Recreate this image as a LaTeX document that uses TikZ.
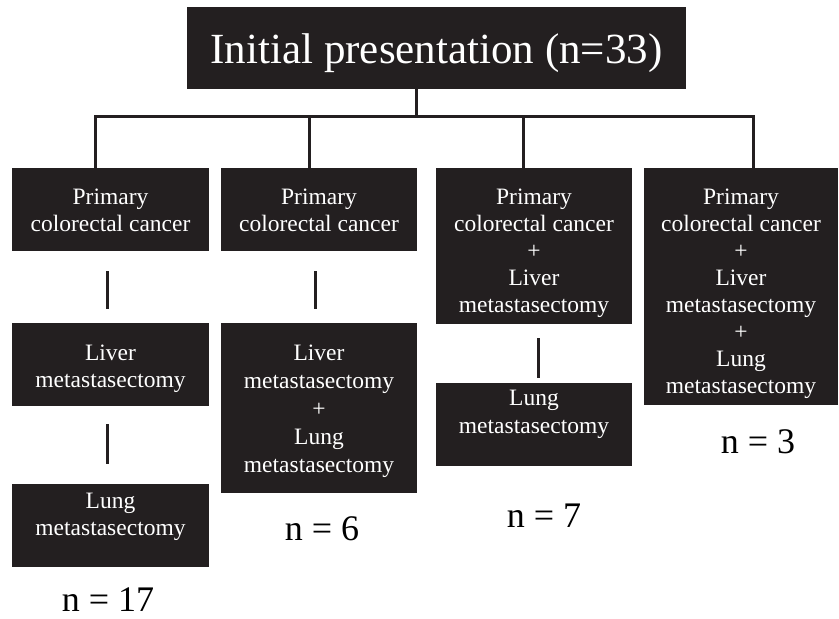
\documentclass[tikz,border=0pt]{standalone}
\usepackage{fontspec}
\setmainfont{Liberation Serif}
\definecolor{boxfill}{HTML}{231F20}
\begin{document}
\begin{tikzpicture}[x=1pt,y=-1pt,
  box/.style={fill=boxfill, draw=none, inner sep=0pt},
  boxtext/.style={text=white, align=center, inner sep=0pt, anchor=base,
              font=\fontsize{23.5}{27}\selectfont},
  count/.style={inner sep=0pt, anchor=base, font=\fontsize{36}{40}\selectfont},
  conn/.style={line width=3pt, draw=boxfill}]
\useasboundingbox (0,0) rectangle (839,619);
% boxes
\node[box, minimum width=499pt, minimum height=82pt] (t) at (436.5,48) {};
\node[box, minimum width=197pt, minimum height=83pt] (a1) at (110.5,209.5) {};
\node[box, minimum width=196pt, minimum height=83pt] (b1) at (319,209.5) {};
\node[box, minimum width=196pt, minimum height=156pt] (c1) at (534,246) {};
\node[box, minimum width=194pt, minimum height=237pt] (d1) at (741,286.5) {};
\node[box, minimum width=197pt, minimum height=83pt] (a2) at (110.5,364.5) {};
\node[box, minimum width=196pt, minimum height=170pt] (b2) at (319,408) {};
\node[box, minimum width=196pt, minimum height=83pt] (c2) at (534,424.5) {};
\node[box, minimum width=197pt, minimum height=83pt] (a3) at (110.5,525.5) {};
% box texts (anchored at the baseline of their last line)
\node[boxtext, font=\fontsize{43}{48}\selectfont] (tt) at (436.5,63) {Initial presentation (n=33)};
\node[boxtext] (a1t) at (110.5,231) {Primary\\colorectal cancer};
\node[boxtext] (b1t) at (319,231) {Primary\\colorectal cancer};
\node[boxtext] (c1t) at (534,312) {Primary\\colorectal cancer\\+\\Liver\\metastasectomy};
\node[boxtext] (d1t) at (741,393) {Primary\\colorectal cancer\\+\\Liver\\metastasectomy\\+\\Lung\\metastasectomy};
\node[boxtext] (a2t) at (110.5,387) {Liver\\metastasectomy};
\node[boxtext, font=\fontsize{23.5}{28}\selectfont] (b2t) at (319,472) {Liver\\metastasectomy\\+\\Lung\\metastasectomy};
\node[boxtext, font=\fontsize{23.5}{28}\selectfont] (c2t) at (534,433) {Lung\\metastasectomy};
\node[boxtext] (a3t) at (110.5,535) {Lung\\metastasectomy};
% counts
\node[count] (na) at (108,611) {n = 17};
\node[count] (nb) at (322,540) {n = 6};
\node[count] (nc) at (544,527) {n = 7};
\node[count] (nd) at (758,453) {n = 3};
% tree connectors
\coordinate (hub) at (416,116);
\coordinate (j1) at (95,116);
\coordinate (j2) at (309,116);
\coordinate (j3) at (523,116);
\coordinate (j4) at (753,116);
\draw[conn] (t.south -| hub) -- (hub);
\draw[conn, line cap=rect] (j1) -- (j4);
\draw[conn] (j1) -- ([yshift=-13pt]j1 |- a1.north);
\draw[conn] (j2) -- ([yshift=-13pt]j2 |- b1.north);
\draw[conn] (j3) -- ([yshift=-13pt]j3 |- c1.north);
\draw[conn] (j4) -- ([yshift=-13pt]j4 |- d1.north);
% vertical connectors
\draw[conn, shorten <=20pt, shorten >=14pt] ([xshift=-3pt]a1.south) -- ([xshift=-3pt]a2.north);
\draw[conn, shorten <=18pt, shorten >=20pt] ([xshift=-3pt]a2.south) -- ([xshift=-3pt]a3.north);
\draw[conn, shorten <=20pt, shorten >=14pt] ([xshift=-4pt]b1.south) -- ([xshift=-4pt]b2.north);
\draw[conn, shorten <=14pt, shorten >=5pt] ([xshift=4pt]c1.south) -- ([xshift=4pt]c2.north);
\end{tikzpicture}
\end{document}
